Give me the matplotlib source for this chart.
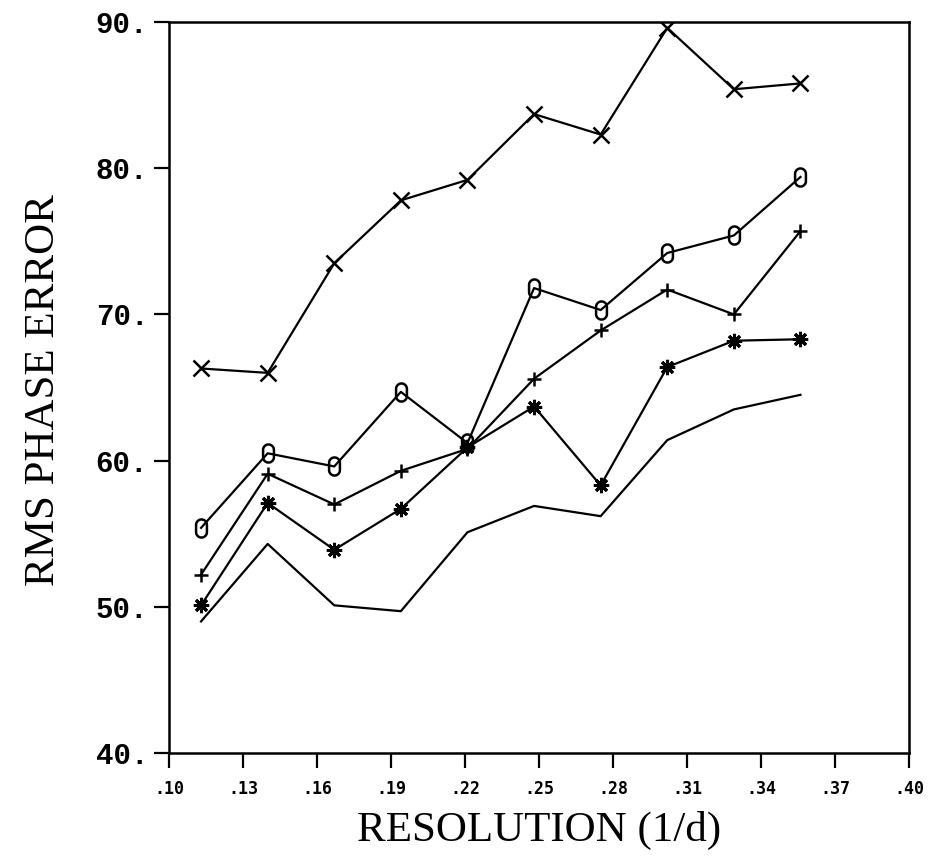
import matplotlib
matplotlib.use("Agg")
import matplotlib.pyplot as plt
from matplotlib.path import Path
import numpy as np

# Data
resolution = [0.113, 0.140, 0.167, 0.194, 0.221, 0.248, 0.275, 0.302, 0.329, 0.356]
series_x = [66.3, 66.0, 73.5, 77.8, 79.2, 83.7, 82.3, 89.6, 85.4, 85.8]
series_o = [55.4, 60.5, 59.6, 64.7, 61.2, 71.8, 70.3, 74.2, 75.4, 79.4]
series_plus = [52.2, 59.1, 57.0, 59.3, 60.8, 65.6, 68.9, 71.7, 70.0, 75.7]
series_star = [50.1, 57.1, 53.9, 56.7, 60.9, 63.7, 58.3, 66.4, 68.2, 68.3]
series_line = [49.0, 54.3, 50.1, 49.7, 55.1, 56.9, 56.2, 61.4, 63.5, 64.5]

xticks = [0.10, 0.13, 0.16, 0.19, 0.22, 0.25, 0.28, 0.31, 0.34, 0.37, 0.40]
xticklabels = [".10", ".13", ".16", ".19", ".22", ".25", ".28", ".31", ".34", ".37", ".40"]
yticks = [40, 50, 60, 70, 80, 90]
yticklabels = ["40.", "50.", "60.", "70.", "80.", "90."]

W, H = 929, 856
fig = plt.figure(figsize=(W / 100, H / 100), dpi=100)
ax = fig.add_axes([169 / W, 1 - 753 / H, (909 - 169) / W, (753 - 22) / H])

# tall rounded "O" marker (stadium shape)
r, hh = 0.6, 0.4
top = np.linspace(0, np.pi, 30)
bot = np.linspace(np.pi, 2 * np.pi, 30)
ox = np.concatenate([r * np.cos(top), r * np.cos(bot), [r]])
oy = np.concatenate([hh + r * np.sin(top), -hh + r * np.sin(bot), [hh]])
o_marker = Path(np.column_stack([ox, oy]))

lw = 1.6
ax.plot(resolution, series_x, color="black", lw=lw, marker="x", ms=12, mew=1.8)
ax.plot(resolution, series_o, color="black", lw=lw, marker=o_marker, ms=13, mew=1.8,
        mfc="none")
ax.plot(resolution, series_plus, color="black", lw=lw, marker="+", ms=10, mew=1.8)
ax.plot(resolution, series_star, color="black", lw=lw, marker=(8, 2, 0), ms=11, mew=2.2)
ax.plot(resolution, series_line, color="black", lw=lw)

ax.set_xlim(0.10, 0.40)
ax.set_ylim(40, 90)
ax.set_xticks(xticks)
ax.set_xticklabels(xticklabels, fontfamily="DejaVu Sans Mono", fontweight="bold", fontsize=12)
ax.set_yticks(yticks)
ax.set_yticklabels(yticklabels, fontfamily="Liberation Mono", fontweight="bold", fontsize=21)
ax.tick_params(axis="x", direction="out", length=10.5, width=1.6, pad=9)
ax.tick_params(axis="y", direction="out", length=11, width=1.6, pad=4)
for s in ax.spines.values():
    s.set_linewidth(1.8)

fig.text(539 / W, 1 - 830 / H, "RESOLUTION (1/d)", ha="center", va="center",
         fontfamily="Liberation Serif", fontsize=31)
fig.text(44 / W, 1 - 390 / H, "RMS PHASE ERROR", ha="center", va="center", rotation=90,
         fontfamily="Liberation Serif", fontsize=31)

fig.savefig("out.png", dpi=100)
